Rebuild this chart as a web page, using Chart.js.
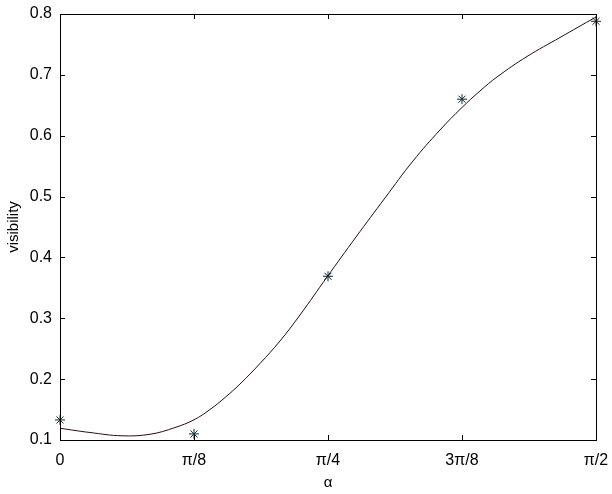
<!DOCTYPE html>
<html>
<head>
<meta charset="utf-8">
<script src="https://cdn.jsdelivr.net/npm/chart.js@4"></script>
<style>
  html, body { margin: 0; padding: 0; background: #fff; }
  #wrap { width: 612px; height: 494px; }
</style>
</head>
<body>
<div id="wrap"><canvas id="c" width="612" height="494"></canvas></div>
<script>
// Fitted curve (alpha in radians, visibility)
const curveAlpha = [0, 0.0879, 0.1817, 0.2638, 0.3370, 0.3927, 0.4396, 0.4836, 0.5275, 0.5861, 0.6447, 0.7033, 0.7825, 0.8675, 0.9524, 1.0345, 1.1136, 1.1781, 1.2308, 1.2807, 1.3686, 1.4653, 1.5708];
const curveVis   = [0.1193, 0.1123, 0.1069, 0.1094, 0.1205, 0.1332, 0.1501, 0.1698, 0.1920, 0.2257, 0.2627, 0.3054, 0.3678, 0.4336, 0.4977, 0.5585, 0.6094, 0.6464, 0.6735, 0.6965, 0.7302, 0.7614, 0.7951];

// Measured points
const measAlpha = [0, Math.PI / 8, Math.PI / 4, 3 * Math.PI / 8, Math.PI / 2];
const measVis   = [0.133, 0.110, 0.369, 0.660, 0.788];

// Tick labels
const xTickValues = [0, Math.PI / 8, Math.PI / 4, 3 * Math.PI / 8, Math.PI / 2];
const xTickLabels = ['0', 'π/8', 'π/4', '3π/8', 'π/2'];
const yTickValues = [0.1, 0.2, 0.3, 0.4, 0.5, 0.6, 0.7, 0.8];

const FONT = "'Liberation Sans', Arial, Helvetica, sans-serif";

const boxPlugin = {
  id: 'boxTicks',
  afterDraw(chart) {
    const { ctx, chartArea: a, scales } = chart;
    ctx.save();
    ctx.strokeStyle = '#000';
    ctx.lineWidth = 1;
    ctx.beginPath();
    const L = 5;
    scales.x.ticks.forEach(t => {
      const px = Math.round(scales.x.getPixelForValue(t.value)) + 0.5;
      ctx.moveTo(px, a.bottom); ctx.lineTo(px, a.bottom - L);
      ctx.moveTo(px, a.top); ctx.lineTo(px, a.top + L);
    });
    scales.y.ticks.forEach(t => {
      const py = Math.round(scales.y.getPixelForValue(t.value)) + 0.5;
      ctx.moveTo(a.left, py); ctx.lineTo(a.left + L, py);
      ctx.moveTo(a.right, py); ctx.lineTo(a.right - L, py);
    });
    ctx.stroke();
    ctx.strokeRect(Math.round(a.left) + 0.5, Math.round(a.top) + 0.5,
                   Math.round(a.right - a.left), Math.round(a.bottom - a.top));
    ctx.restore();
  }
};

new Chart(document.getElementById('c'), {
  type: 'scatter',
  data: {
    datasets: [
      {
        label: 'fit',
        data: curveAlpha.map((a, i) => ({ x: a, y: curveVis[i] })),
        showLine: true,
        borderColor: '#2a0a0e',
        borderWidth: 1,
        pointRadius: 0,
        tension: 0.4,
        fill: false
      },
      {
        label: 'measured',
        data: measAlpha.map((a, i) => ({ x: a, y: measVis[i] })),
        showLine: false,
        clip: false,
        pointStyle: 'star',
        pointRadius: 5,
        borderColor: '#0b2a33',
        borderWidth: 1,
        backgroundColor: 'transparent'
      }
    ]
  },
  options: {
    responsive: false,
    animation: false,
    events: [],
    layout: { padding: { top: 14, right: 16, left: 0, bottom: 0 } },
    plugins: { legend: { display: false }, tooltip: { enabled: false } },
    scales: {
      x: {
        type: 'linear',
        min: 0,
        max: Math.PI / 2,
        afterBuildTicks: s => { s.ticks = xTickValues.map(v => ({ value: v })); },
        afterFit: s => { s.height = 54; s.paddingLeft = 0; s.paddingRight = 0; },
        grid: { display: false, drawTicks: false },
        border: { display: false },
        ticks: {
          padding: 11,
          color: '#000',
          font: { family: FONT, size: 16 },
          maxRotation: 0,
          callback: (v, i) => xTickLabels[i]
        },
        title: {
          display: true,
          text: 'α',
          color: '#000',
          font: { family: FONT, size: 15 },
          padding: { top: 0, bottom: 2 }
        }
      },
      y: {
        type: 'linear',
        min: 0.1,
        max: 0.8,
        afterBuildTicks: s => { s.ticks = yTickValues.map(v => ({ value: v })); },
        afterFit: s => { s.width = 60; s.paddingTop = 0; s.paddingBottom = 0; },
        grid: { display: false, drawTicks: false },
        border: { display: false },
        ticks: {
          padding: 8,
          color: '#000',
          font: { family: FONT, size: 16 },
          callback: v => v.toFixed(1)
        },
        title: {
          display: true,
          text: 'visibility',
          color: '#000',
          font: { family: FONT, size: 15 },
          padding: { top: 5, bottom: 0 }
        }
      }
    }
  },
  plugins: [boxPlugin]
});
</script>
</body>
</html>
